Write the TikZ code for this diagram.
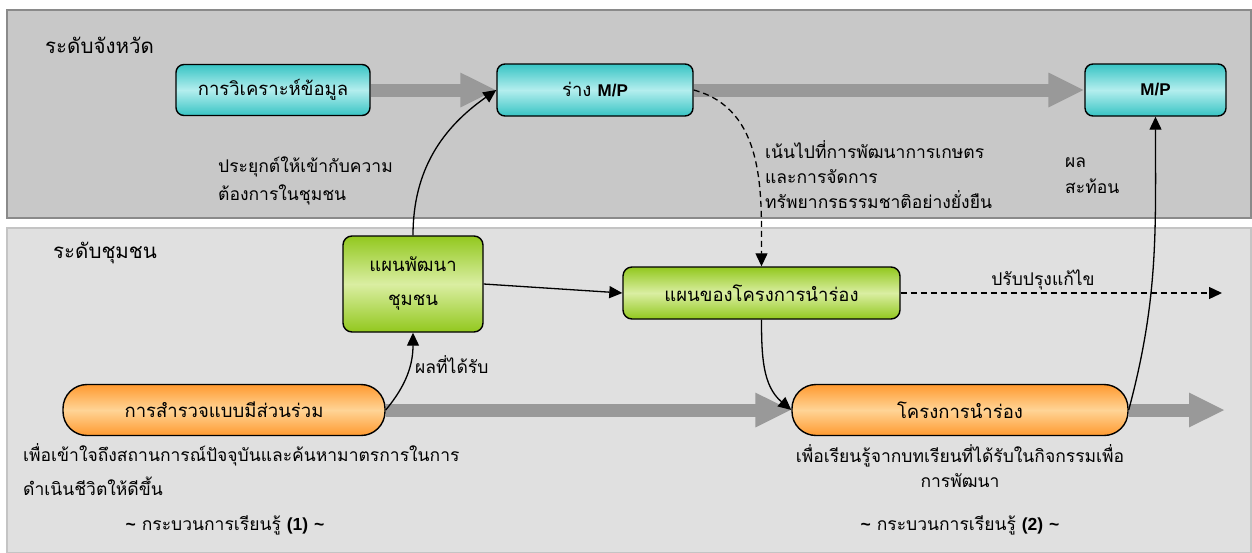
\documentclass[tikz,border=0pt]{standalone}
\usepackage{fontspec}
\newfontfamily\thaifont[Script=Thai]{Loma}
\newfontfamily\lsans{Liberation Sans}
\usetikzlibrary{%
		arrows.meta%
		,positioning%
		,backgrounds%
	}

\definecolor{panelTop}{HTML}{C8C8C8}
\definecolor{panelTopLine}{HTML}{8A8A8A}
\definecolor{panelLow}{HTML}{E0E0E0}
\definecolor{panelLowLine}{HTML}{C4C4C4}
\definecolor{flowGray}{HTML}{999999}
\definecolor{cyanDark}{HTML}{38C4C4}
\definecolor{cyanLight}{HTML}{B4EEEE}
\definecolor{greenDark}{HTML}{92C81E}
\definecolor{greenLight}{HTML}{DAEEA2}
\definecolor{orangeDark}{HTML}{FF9A30}
\definecolor{orangeLight}{HTML}{FFD496}

\tikzset{
	thtext/.style={font=\thaifont\fontsize{17.5}{20}\selectfont, inner sep=0pt},
	lvltext/.style={font=\thaifont\fontsize{20.5}{24}\selectfont, inner sep=0pt},
	boxtext/.style={font=\thaifont\fontsize{18.5}{22}\selectfont, inner sep=0pt},
	cyanbox/.style={draw, line width=1.4pt, rounded corners=8pt, top color=cyanDark, bottom color=cyanDark, middle color=cyanLight, boxtext},
	greenbox/.style={draw, line width=1.4pt, rounded corners=9pt, top color=greenDark, bottom color=greenDark, middle color=greenLight, boxtext},
	orangebox/.style={draw, line width=1.4pt, rounded corners=24pt, top color=orangeDark, bottom color=orangeDark, middle color=orangeLight, boxtext},
	flow/.style={line width=13pt, flowGray, -{Triangle[length=36pt,width=32pt]}},
	link/.style={line width=1.3pt, -{Triangle[length=13pt,width=12pt]}},
	dlink/.style={link, dash pattern=on 6pt off 4pt},
}
\newcommand{\mpbold}[1]{{\lsans\bfseries\fontsize{17}{20}\selectfont #1}}

\begin{document}
\begin{tikzpicture}[x=1pt, y=-1pt]
			\useasboundingbox (0,0) rectangle (1252,552);
			
			% boxes
			\node[cyanbox, minimum width=194pt, minimum height=51pt] (analysis) at (273,90) {การวิเคราะห์ข้อมูล};
			\node[cyanbox, minimum width=196pt, minimum height=52pt] (draft) at (595,90) {ร่าง \mpbold{M/P}};
			\node[cyanbox, minimum width=141pt, minimum height=52pt] (mp) at (1155.5,90) {\mpbold{M/P}};
			
			\node[greenbox, minimum width=140pt, minimum height=96pt, align=center] (devplan) at (413,284) {แผนพัฒนา\\[12pt]ชุมชน};
			\node[greenbox, minimum width=277pt, minimum height=52pt] (plan) at (761.5,293) {แผนของโครงการนำร่อง};
			\node[orangebox, minimum width=322pt, minimum height=51pt] (survey) at (224,410) {การสำรวจแบบมีส่วนร่วม};
			\node[orangebox, minimum width=336pt, minimum height=51pt] (pilot) at (960,410) {โครงการนำร่อง};
			\coordinate (pilotend) at (1225,410);
			\coordinate (reviseend) at (1222,293);
			
			% the two levels and the main flows
			\begin{scope}[on background layer]
			\filldraw[fill=panelTop, draw=panelTopLine, line width=2pt] (7,10) rectangle (1251,218);
			\filldraw[fill=panelLow, draw=panelLowLine, line width=2pt] (7,228) rectangle (1251,553);
			\draw[flow] (analysis.east) -- (draft.west);
			\draw[flow] (draft.east) -- (mp.west);
			\draw[flow] (survey.east) -- (pilot.west);
			\draw[flow] (pilot.east) -- (pilotend);
			\end{scope}
			\node[lvltext, anchor=west] (lvlprov) at (45,45) {ระดับจังหวัด};
			\node[lvltext, anchor=west] (lvlcomm) at (53,253) {ระดับชุมชน};
			
			% links
			\draw[link] (survey.east) to[out=50, in=-90] (devplan.south);
			\draw[link] (devplan.north) to[out=90, in=215] (draft.west);
			\draw[link] (devplan.east) -- (plan.west);
			\draw[dlink] (draft.east) to[out=-15, in=90] (plan.north);
			\draw[link] (plan.south) to[out=-90, in=140] (pilot.west);
			\draw[link] (pilot.east) to[out=75, in=-90] (mp.south);
			\draw[dlink] (plan.east) -- (reviseend);
			
			% notes
			\node[thtext, anchor=north west, align=left] (noteapply) at (218,157) {ประยุกต์ให้เข้ากับความ\\[6pt]ต้องการในชุมชน};
			\node[thtext, anchor=north west, align=left] (notefocus) at (765,140) {เน้นไปที่การพัฒนาการเกษตร\\[5pt]และการจัดการ\\[5pt]ทรัพยากรธรรมชาติอย่างยั่งยืน};
			\node[thtext, anchor=north west, align=left] (notereflect) at (1065,157) {ผล\\[6pt]สะท้อน};
			\node[thtext, anchor=west] (noteresult) at (415,365) {ผลที่ได้รับ};
			\node[thtext] (noterevise) at (1043,280) {ปรับปรุงแก้ไข};
			\node[thtext, anchor=north west, align=left] (notesurvey) at (23,443) {เพื่อเข้าใจถึงสถานการณ์ปัจจุบันและค้นหามาตรการในการ\\[10pt]ดำเนินชีวิตให้ดีขึ้น};
			\node[thtext, align=center] (notepilot) at (960,466) {เพื่อเรียนรู้จากบทเรียนที่ได้รับในกิจกรรมเพื่อ\\[5pt]การพัฒนา};
			\node[thtext] (learn1) at (225,525) {{\lsans\bfseries\textasciitilde} กระบวนการเรียนรู้ {\lsans\bfseries (1)} {\lsans\bfseries\textasciitilde}};
			\node[thtext] (learn2) at (960,525) {{\lsans\bfseries\textasciitilde} กระบวนการเรียนรู้ {\lsans\bfseries (2)} {\lsans\bfseries\textasciitilde}};
		\end{tikzpicture}
\end{document}
